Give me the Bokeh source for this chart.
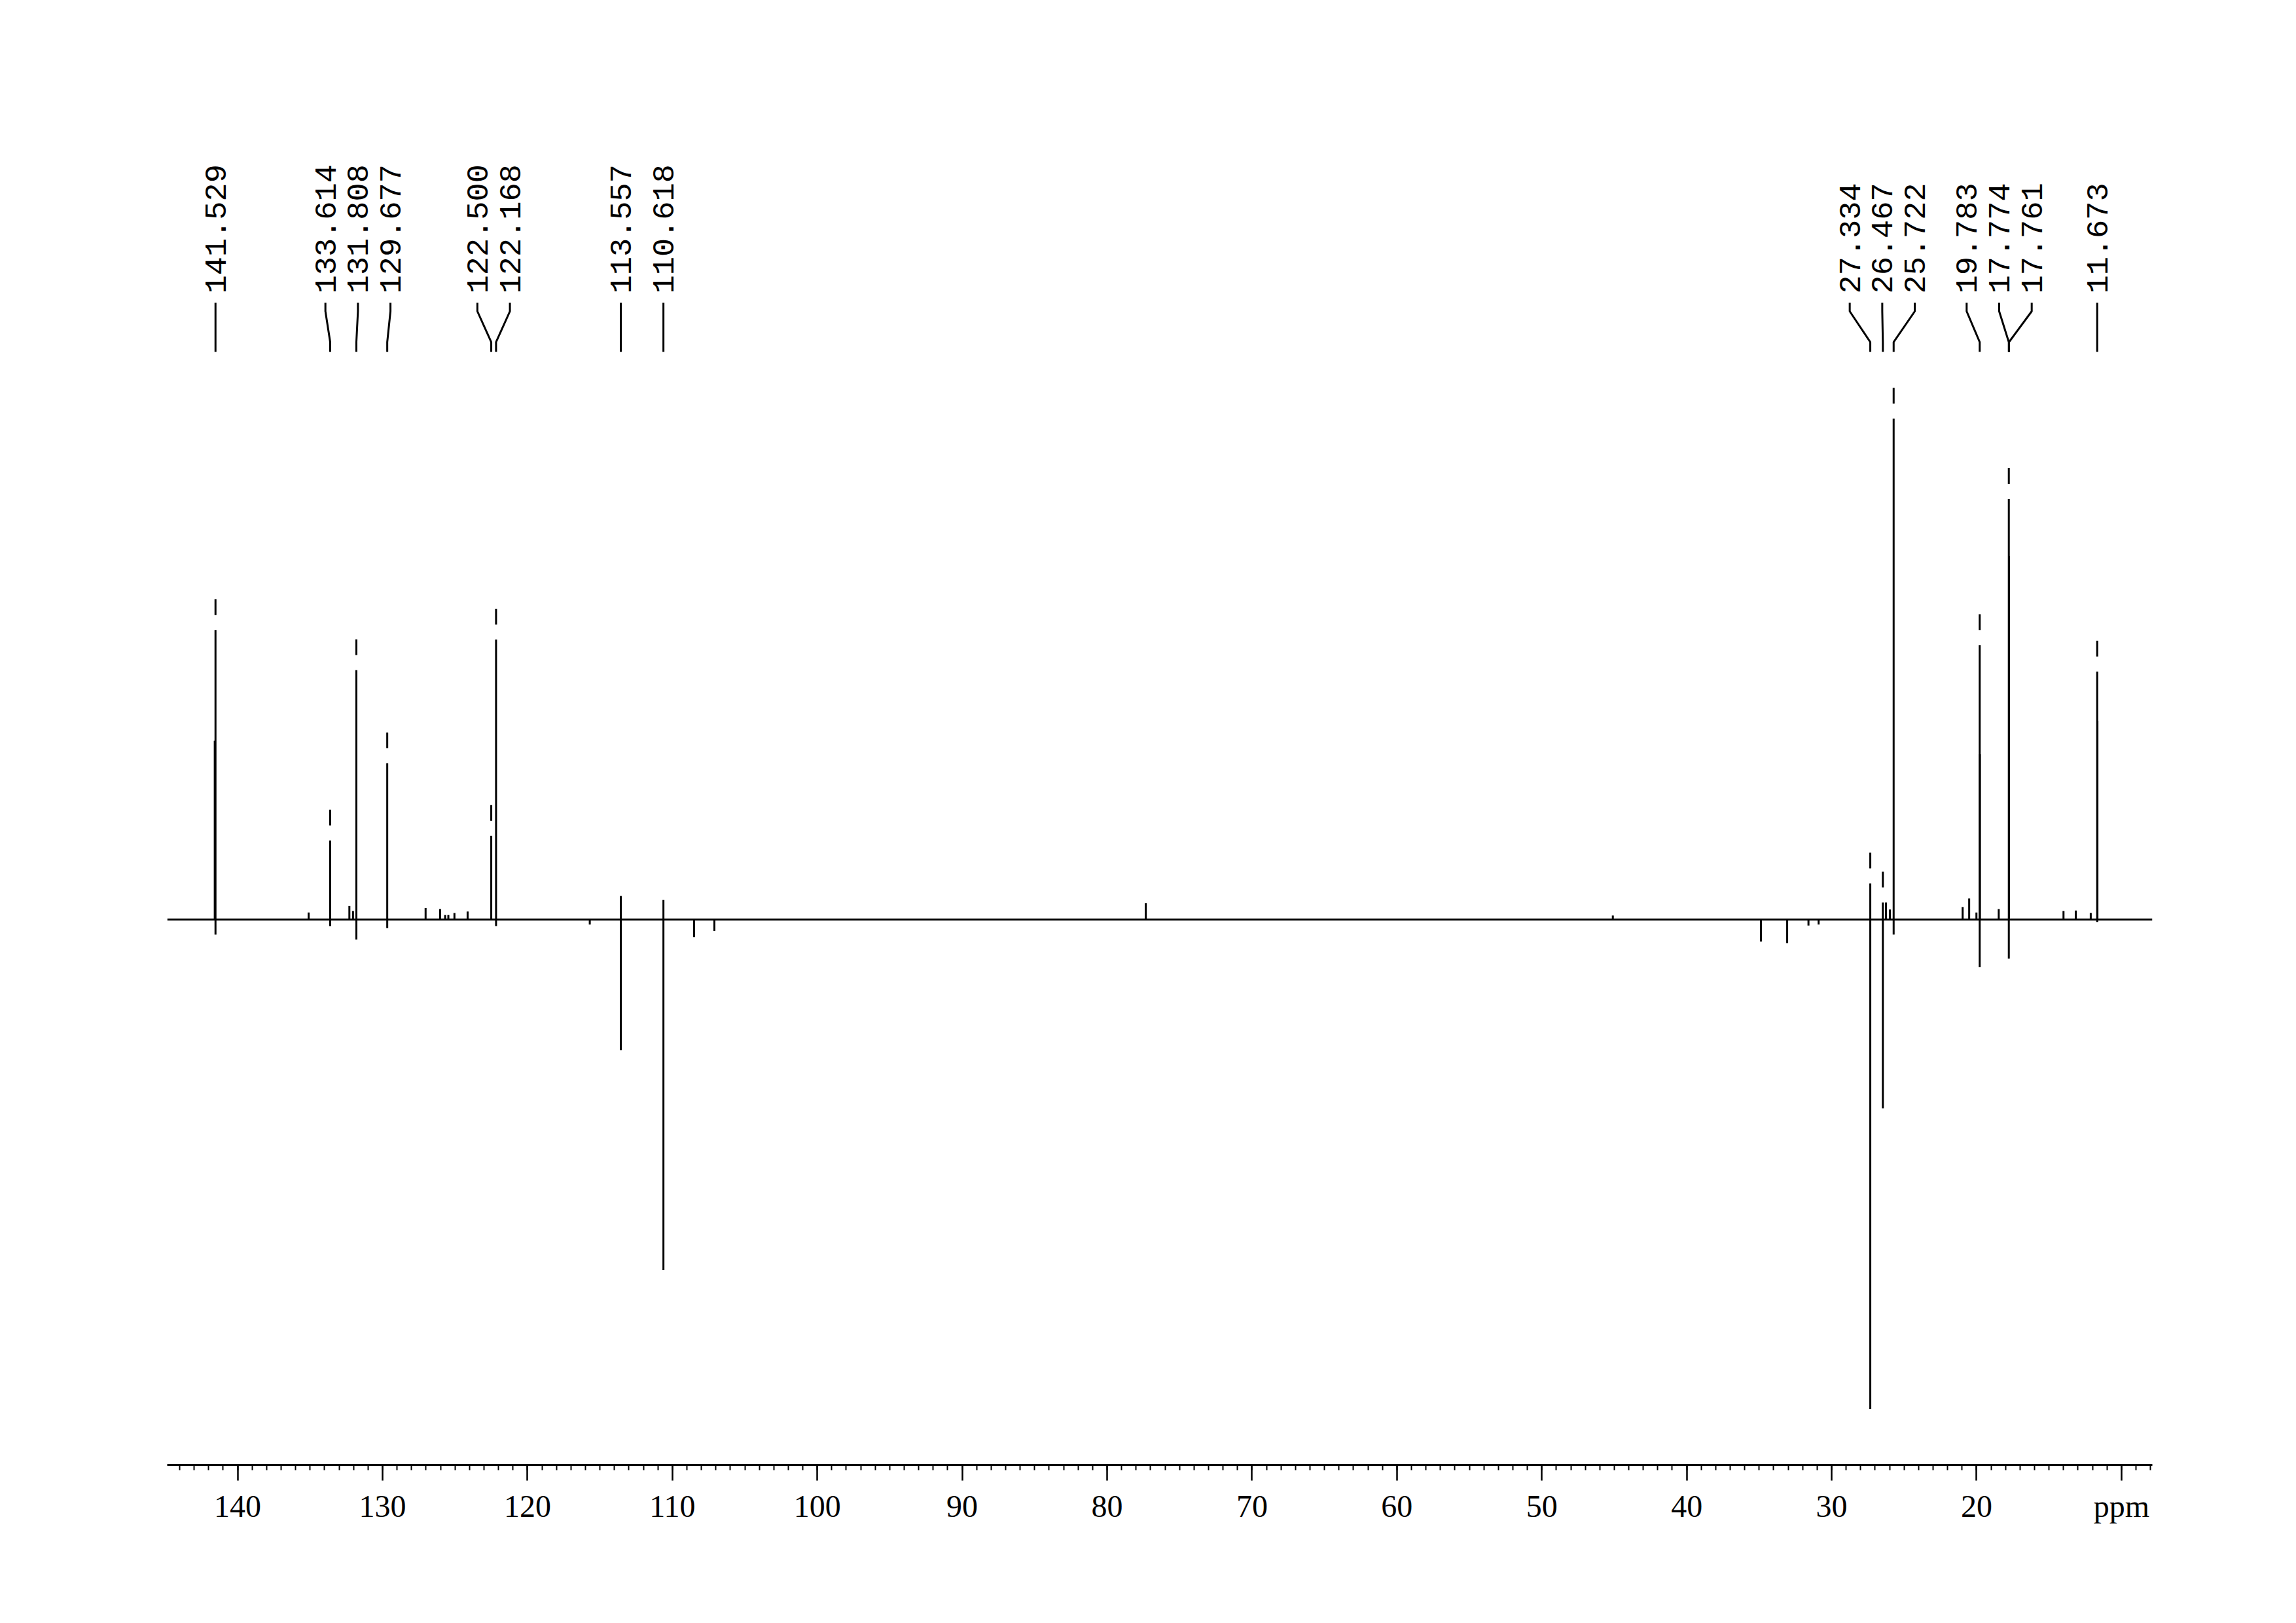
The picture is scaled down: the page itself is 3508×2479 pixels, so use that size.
import math
from bokeh.plotting import figure
from bokeh.models import Range1d, Span, FixedTicker
from bokeh.core.properties import value
from bokeh.embed import file_html
from bokeh.resources import INLINE

# ---------------- data ----------------
peak_ppm = [141.529, 133.614, 131.808, 129.677, 122.500, 122.168, 113.557, 110.618,
            27.334, 26.467, 25.722, 19.783, 17.774, 17.761, 11.673]
# relative intensity (25.722 ppm peak = 100); positive and negative lobes
peak_pos = [57.8, 15.8, 49.8, 31.2, 16.7, 55.9, 4.7, 3.9,
            7.2, 3.4, 100.0, 54.8, 84.0, 72.6, 49.5]
peak_neg = [-3.0, -1.3, -4.0, -1.7, 0.0, -1.3, -26.1, -70.0,
            -97.7, -37.7, -3.0, -9.5, -7.8, 0.0, -0.5]
peak_marked = [True, True, True, True, True, True, False, False,
               True, True, True, True, True, False, True]

minor_ppm = [141.58, 135.1, 132.29, 132.04, 127.03, 126.03, 125.68, 125.46, 125.04,
             124.13, 115.7, 108.5, 107.1, 77.33, 45.1, 34.88, 33.07, 31.6, 30.9,
             26.25, 25.98, 20.96, 20.51, 20.01, 19.77, 18.47, 14.0, 13.15, 12.12, 11.66]
minor_height = [35.7, 1.4, 2.7, 1.7, 2.3, 2.1, 0.9, 0.9, 1.3,
                1.6, -1.0, -3.5, -2.3, 3.3, 0.8, -4.4, -4.7, -1.2, -1.0,
                3.4, 2.0, 2.5, 4.2, 1.4, 33.0, 2.1, 1.7, 1.8, 1.3, 39.7]

major_ticks = [140, 130, 120, 110, 100, 90, 80, 70, 60, 50, 40, 30, 20, 10]
minor_ticks = list(range(8, 145))
tick_overrides = {10: "ppm"}

# ---------------- layout constants ----------------
PX_PER_PPM = 22.141
PX_PER_UNIT = 7.65
BASE_PAGE_Y = 1404.0


def ydata(page_y):
    return (BASE_PAGE_Y - page_y) / PX_PER_UNIT


LABEL_Y = ydata(448)
CONN_Y = [ydata(462), ydata(475), ydata(522), ydata(537)]
DASH_GAP = 23 / PX_PER_UNIT
DASH_LEN = 24 / PX_PER_UNIT
SEP = 49.7 / PX_PER_PPM

# declutter label positions (in ppm, descending)
groups = [[i] for i in range(len(peak_ppm))]


def place(g):
    m = sum(peak_ppm[i] for i in g) / len(g)
    n = len(g)
    return [m + SEP * ((n - 1) / 2 - k) for k in range(n)]


changed = True
while changed:
    changed = False
    for gi in range(len(groups) - 1):
        a = place(groups[gi])
        b = place(groups[gi + 1])
        if a[-1] - b[0] < SEP - 1e-9:
            groups[gi] = groups[gi] + groups[gi + 1]
            del groups[gi + 1]
            changed = True
            break
label_x = []
for g in groups:
    label_x += place(g)

# ---------------- figure ----------------
FRAME_TOP = 40
FRAME_BOTTOM = 2237
p = figure(width=3490, height=2460,
           x_range=Range1d(144.86, 7.87),
           y_range=Range1d(ydata(FRAME_BOTTOM), ydata(FRAME_TOP)),
           output_backend="svg", toolbar_location=None,
           y_axis_location=None,
           min_border_left=255, min_border_right=3490 - 3288,
           min_border_top=FRAME_TOP, min_border_bottom=2460 - FRAME_BOTTOM)
p.outline_line_color = None
p.xgrid.visible = False
p.ygrid.visible = False
p.background_fill_color = "white"
p.border_fill_color = "white"

# baseline
p.add_layout(Span(location=0, dimension="width", line_color="black", line_width=3))

# peaks
p.segment(x0=peak_ppm, y0=[0] * len(peak_ppm), x1=peak_ppm, y1=peak_pos,
          line_color="black", line_width=3)
p.segment(x0=peak_ppm, y0=[0] * len(peak_ppm), x1=peak_ppm, y1=peak_neg,
          line_color="black", line_width=3)
p.segment(x0=minor_ppm, y0=[0] * len(minor_ppm), x1=minor_ppm, y1=minor_height,
          line_color="black", line_width=3)

# dashes above picked peaks
dx = [x for x, m in zip(peak_ppm, peak_marked) if m]
dh = [h for h, m in zip(peak_pos, peak_marked) if m]
p.segment(x0=dx, y0=[h + DASH_GAP for h in dh], x1=dx, y1=[h + DASH_GAP + DASH_LEN for h in dh],
          line_color="black", line_width=3)

# peak labels and connectors
p.text(x=label_x, y=[LABEL_Y] * len(label_x), text=[f"{v:.3f}" for v in peak_ppm],
       angle=math.pi / 2, text_align="left", text_baseline="middle",
       text_font=value("Liberation Mono"), text_font_size="47px", text_color="black")
p.multi_line(xs=[[lx, lx, px, px] for lx, px in zip(label_x, peak_ppm)],
             ys=[CONN_Y for _ in peak_ppm], line_color="black", line_width=3)

# axis
ax = p.xaxis[0]
ax.ticker = FixedTicker(ticks=major_ticks, minor_ticks=minor_ticks)
ax.major_label_overrides = tick_overrides
ax.axis_line_width = 3
ax.axis_line_color = "black"
ax.major_tick_out = 24
ax.major_tick_in = 0
ax.major_tick_line_width = 2.5
ax.major_tick_line_color = "black"
ax.minor_tick_out = 8
ax.minor_tick_in = 0
ax.minor_tick_line_width = 2
ax.minor_tick_line_color = "black"
ax.major_label_text_font = "Liberation Serif"
ax.major_label_text_font_size = "48px"
ax.major_label_text_color = "black"
ax.major_label_standoff = 12

open("out.html", "w").write(file_html(p, INLINE))
